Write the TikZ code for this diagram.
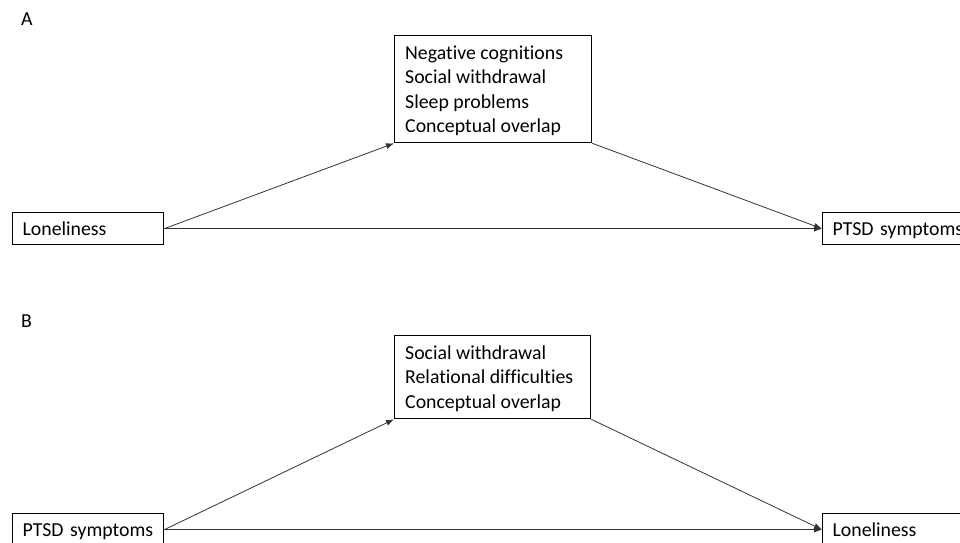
\documentclass[tikz,border=0pt]{standalone}
\usepackage{fontspec}
\setmainfont{Carlito}[Ligatures={NoCommon}]
\usetikzlibrary{arrows.meta}
\begin{document}
\begin{tikzpicture}[x=1pt,y=-1pt,
  box/.style={draw=black, line width=1.3pt, inner ysep=0pt, inner xsep=10pt, anchor=north west,
    font=\fontsize{19.8}{24.5}\selectfont, align=left, text height=15pt, text depth=1pt},
  lbl/.style={font=\fontsize{19.8}{24.5}\selectfont, inner sep=0pt, anchor=base west, align=left},
  arr/.style={line width=0.8pt, draw=black!80, -{Latex[length=8pt,width=6pt]}}]
\useasboundingbox (0,0) rectangle (960,542);
\clip (0,0) rectangle (960,542);
\fill[white] (0,0) rectangle (960,542);
% Panel A
\node[lbl] (la) at (21,25) {A};
\node[box, minimum width=151, minimum height=32, text width=131] (lonA) at (12,212) {Loneliness};
\node[box, minimum width=151, minimum height=32, text width=131] (ptsdA) at (822,212) {PTSD symptoms};
\node[box, minimum width=197, minimum height=107] (medA) at (394,35) {};
\node[lbl] (medAtxt) at (405,132.5) {Negative cognitions\\Social withdrawal\\Sleep problems\\Conceptual overlap};
\draw[arr] (lonA.east) -- (medA.south west);
\draw[arr] (lonA.east) -- (ptsdA.west);
\draw[arr] (medA.south east) -- (ptsdA.west);
% Panel B
\node[lbl] (lb) at (21,327) {B};
\node[box, minimum width=151, minimum height=32, text width=131] (ptsdB) at (12,513) {PTSD symptoms};
\node[box, minimum width=151, minimum height=32, text width=131] (lonB) at (822,513) {Loneliness};
\node[box, minimum width=196, minimum height=83] (medB) at (394,335) {};
\node[lbl] (medBtxt) at (405,408) {Social withdrawal\\Relational difficulties\\Conceptual overlap};
\draw[arr] (ptsdB.east) -- (medB.south west);
\draw[arr] (ptsdB.east) -- (lonB.west);
\draw[arr] (medB.south east) -- (lonB.west);
\end{tikzpicture}
\end{document}
